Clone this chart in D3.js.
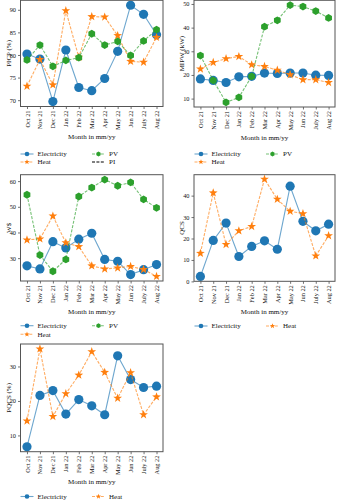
<!DOCTYPE html>
<html><head><meta charset="utf-8">
<script src="https://cdn.jsdelivr.net/npm/d3@7"></script>
<style>body{margin:0;background:#fff}svg{display:block}text{font-family:"Liberation Serif","DejaVu Serif",serif;fill:#111}</style>
</head><body><svg id="c" width="337" height="500"></svg>
<script>
const months = ["Oct 21","Nov 21","Dec 21","Jan 22","Feb 22","Mar 22","Apr 22","May 22","Jun 22","July 22","Aug 22"];

// PICP (%)
const picpElectricity = [80.2,79.1,69.7,81.1,72.8,72.1,74.8,80.8,91.0,89.0,84.5];
const picpHeat        = [73.1,79.0,73.4,89.8,79.5,88.5,88.4,84.3,78.6,78.4,83.9];
const picpPV          = [78.9,82.2,77.5,78.8,79.4,84.7,82.2,83.0,79.9,83.1,85.6];
const picpTicks = [70,75,80,85,90];

// MIPW (kW)
const mipwElectricity = [18.3,17.7,16.8,19.2,19.4,20.8,20.6,20.8,20.8,19.9,19.8];
const mipwHeat        = [22.5,25.3,26.9,27.8,24.3,23.6,22.0,20.1,18.0,18.0,16.8];
const mipwPV          = [28.2,17.7,8.4,10.5,19.4,40.4,43.1,49.5,48.9,47.0,44.1];
const mipwTicks = [10,20,30,40,50];

// W$
const wsElectricity = [27.0,25.8,36.4,34.0,37.4,39.7,29.5,28.8,23.6,25.5,27.5];
const wsHeat        = [37.1,37.5,46.4,36.0,34.5,27.0,25.8,26.2,26.8,25.6,22.9];
const wsPV          = [54.7,31.2,24.9,29.5,54.0,57.5,60.6,58.2,59.5,52.9,49.6];
const wsTicks = [30,40,50,60];

// QCS
const qcsElectricity = [2.3,19.1,27.2,11.6,16.3,18.9,15.0,44.4,28.0,23.6,26.7];
const qcsHeat        = [13.1,41.3,17.2,23.6,25.6,47.7,38.3,32.7,31.6,11.9,21.3];
const qcsTicks = [0,10,20,30,40];

// PQCS (%)
const pqcsElectricity = [6.7,21.6,23.0,16.2,20.4,18.6,16.0,33.1,26.2,23.9,24.3];
const pqcsHeat        = [14.2,35.1,15.5,22.1,27.5,34.3,28.3,20.8,28.2,16.0,21.2];
const pqcsTicks = [10,20,30];

const C = {elec:"#1f77b4", heat:"#ff7f0e", pv:"#2ca02c"};
const svg = d3.select("#c");

function starPath(R){
  const r = R*0.4; let p=[];
  for(let i=0;i<10;i++){const a=-Math.PI/2+i*Math.PI/5;const rr=i%2?r:R;p.push([rr*Math.cos(a),rr*Math.sin(a)]);}
  return "M"+p.map(q=>q.join(",")).join("L")+"Z";
}
function hexPath(R){
  let p=[];
  for(let i=0;i<6;i++){const a=-Math.PI/2+i*Math.PI/3;p.push([R*Math.cos(a),R*Math.sin(a)]);}
  return "M"+p.map(q=>q.join(",")).join("L")+"Z";
}
function circlePath(R){return `M${R},0A${R},${R},0,1,1,${-R},0A${R},${R},0,1,1,${R},0Z`;}

const kinds = {
  Electricity:{color:C.elec, dash:null, marker:circlePath(4.6), lm:circlePath(2.3)},
  Heat:{color:C.heat, dash:"3,1.4", marker:starPath(4.6), lm:starPath(2.8)},
  PV:{color:C.pv, dash:"3,1.4", marker:hexPath(3.9), lm:hexPath(2.4)},
  PI:{color:"#000", dash:"3,1.4", marker:null, lm:null}
};

function panel(o){
  const g = svg.append("g");
  const x = d3.scalePoint().domain(months).range([o.l,o.r]).padding(0.5);
  const y = d3.scaleLinear().domain(o.dom).range([o.b,o.t]);
  // axes
  const ya = d3.axisLeft(y).tickValues(o.ticks).tickSize(2.5).tickPadding(2);
  const yg = g.append("g").attr("transform",`translate(${o.l},0)`).call(ya);
  yg.select(".domain").remove();
  yg.selectAll("text").style("font-size","6.3px").attr("fill","#111");
  yg.selectAll("line").attr("stroke","#333").attr("stroke-width",0.7);
  const xa = d3.axisBottom(x).tickSize(2.5).tickPadding(2);
  const xg = g.append("g").attr("transform",`translate(0,${o.b})`).call(xa);
  xg.select(".domain").remove();
  xg.selectAll("line").attr("stroke","#333").attr("stroke-width",0.7);
  xg.selectAll("text").style("font-size","6.3px").attr("fill","#111")
    .attr("text-anchor","end").attr("dy","0.32em")
    .attr("transform","translate(0,4) rotate(-90)").attr("x",0).attr("y",0);
  // series
  o.series.forEach(s=>{
    const k = kinds[s.name];
    const line = d3.line().x((d,i)=>x(months[i])).y(d=>y(d));
    g.append("path").attr("d",line(s.values)).attr("fill","none")
      .attr("stroke",k.color).attr("stroke-width",1.1).attr("stroke-opacity",0.65)
      .attr("stroke-dasharray",k.dash);
    g.selectAll(null).data(s.values).enter().append("path")
      .attr("d",k.marker).attr("fill",k.color)
      .attr("transform",(d,i)=>`translate(${x(months[i])},${y(d)})`);
  });
  // frame
  g.append("rect").attr("x",o.l).attr("y",o.t).attr("width",o.r-o.l).attr("height",o.b-o.t)
    .attr("fill","none").attr("stroke","#555").attr("stroke-width",1);
  // labels
  g.append("text").attr("transform",`translate(${o.l-12},${(o.t+o.b)/2}) rotate(-90)`)
    .attr("text-anchor","middle").attr("dy","0.35em").style("font-size","7px").text(o.ylabel);
  g.append("text").attr("x",(o.l+o.r)/2).attr("y",o.b+32.5).attr("text-anchor","middle")
    .style("font-size","7px").text("Month in mm/yy");
  // legend
  o.legend.forEach(e=>{
    const k = kinds[e.name];
    g.append("line").attr("x1",e.x).attr("x2",e.x+13).attr("y1",e.y).attr("y2",e.y)
      .attr("stroke",k.color).attr("stroke-width",1.1).attr("stroke-opacity",k.marker?0.65:1)
      .attr("stroke-dasharray",k.dash);
    if(k.lm) g.append("path").attr("d",k.lm).attr("fill",k.color).attr("transform",`translate(${e.x+6.5},${e.y})`);
    g.append("text").attr("x",e.x+17).attr("y",e.y).attr("dy","0.35em").style("font-size","7px").text(e.name);
  });
}

panel({l:20.5,r:163,t:0.3,b:106.5,dom:[68.6,92.1],ticks:picpTicks,ylabel:"PICP (%)",
  series:[{name:"Electricity",values:picpElectricity},{name:"Heat",values:picpHeat},{name:"PV",values:picpPV}],
  legend:[{name:"Electricity",x:20.5,y:154},{name:"Heat",x:20.5,y:162},{name:"PV",x:92,y:154},{name:"PI",x:92,y:162}]});

panel({l:194,r:335,t:0.3,b:107,dom:[6.45,51.55],ticks:mipwTicks,ylabel:"MIPW (kW)",
  series:[{name:"Electricity",values:mipwElectricity},{name:"Heat",values:mipwHeat},{name:"PV",values:mipwPV}],
  legend:[{name:"Electricity",x:194.5,y:154},{name:"Heat",x:194.5,y:162},{name:"PV",x:266,y:154}]});

panel({l:20.5,r:163,t:174.7,b:281,dom:[21.1,62.5],ticks:wsTicks,ylabel:"W$",
  series:[{name:"Electricity",values:wsElectricity},{name:"Heat",values:wsHeat},{name:"PV",values:wsPV}],
  legend:[{name:"Electricity",x:20.5,y:325.7},{name:"Heat",x:20.5,y:334.3},{name:"PV",x:92,y:325.7}]});

panel({l:194,r:335,t:174.7,b:281.3,dom:[0.04,49.76],ticks:qcsTicks,ylabel:"QCS",
  series:[{name:"Electricity",values:qcsElectricity},{name:"Heat",values:qcsHeat}],
  legend:[{name:"Electricity",x:194.5,y:326},{name:"Heat",x:266,y:326}]});

panel({l:20.5,r:163,t:344,b:451.7,dom:[5.28,36.52],ticks:pqcsTicks,ylabel:"PQCS (%)",
  series:[{name:"Electricity",values:pqcsElectricity},{name:"Heat",values:pqcsHeat}],
  legend:[{name:"Electricity",x:20.5,y:496.5},{name:"Heat",x:92,y:496.5}]});
</script></body></html>
